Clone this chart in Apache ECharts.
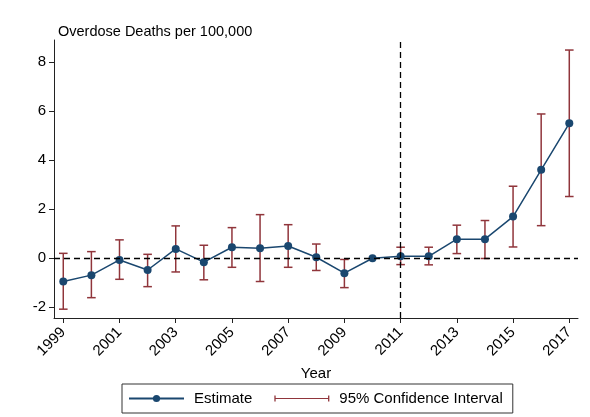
<!DOCTYPE html>
<html>
<head>
<meta charset="utf-8">
<script src="https://cdn.jsdelivr.net/npm/echarts@6/dist/echarts.min.js"></script>
<style>
  html, body { margin: 0; padding: 0; background: #fff; }
  #chart { width: 590px; height: 417px; }
</style>
</head>
<body>
<div id="chart"></div>
<script>
// Event-study estimates of overdose deaths per 100,000 (2010 = reference year)
const years = [1999, 2000, 2001, 2002, 2003, 2004, 2005, 2006, 2007, 2008,
               2009, 2010, 2011, 2012, 2013, 2014, 2015, 2016, 2017];
const estimate = [-0.95, -0.69, -0.07, -0.48, 0.38, -0.16, 0.45, 0.41, 0.50, 0.04,
                  -0.61, 0.00, 0.08, 0.08, 0.78, 0.78, 1.70, 3.61, 5.51];
// 95% confidence bounds; the reference year has no interval
const ciLow  = [-2.08, -1.61, -0.86, -1.16, -0.56, -0.88, -0.37, -0.95, -0.37, -0.50,
                -1.20, null, -0.26, -0.27, 0.19, -0.01, 0.46, 1.33, 2.52];
const ciHigh = [0.20, 0.27, 0.75, 0.16, 1.32, 0.53, 1.25, 1.78, 1.37, 0.58,
                -0.05, null, 0.45, 0.45, 1.35, 1.54, 2.94, 5.89, 8.50];
const xTicks = [1999, 2001, 2003, 2005, 2007, 2009, 2011, 2013, 2015, 2017];
const yTicks = [-2, 0, 2, 4, 6, 8];
const treatmentYear = 2011;

const NAVY = '#1a476f';
const MAROON = '#90353b';
const FONT = '"Liberation Sans", Arial, Helvetica, sans-serif';

const estData = years.map((y, i) => [y, estimate[i]]);
const ciData = years
  .map((y, i) => [y, ciLow[i], ciHigh[i]])
  .filter(d => d[1] !== null && d[2] !== null);

const chart = echarts.init(document.getElementById('chart'), null, { renderer: 'canvas' });

chart.setOption({
  animation: false,
  backgroundColor: '#fff',
  textStyle: { fontFamily: FONT, color: '#000' },
  title: {
    text: 'Overdose Deaths per 100,000',
    left: 53,
    top: 19,
    textStyle: { fontFamily: FONT, fontSize: 14.5, fontWeight: 'normal', color: '#000' }
  },
  grid: { left: 54, right: 12, top: 40, bottom: 99, containLabel: false },
  xAxis: {
    type: 'value',
    min: 1998.67,
    max: 2017.31,
    name: 'Year',
    nameLocation: 'middle',
    nameGap: 38,
    nameTextStyle: { fontFamily: FONT, fontSize: 15, color: '#000' },
    splitLine: { show: false },
    axisLine: { show: true, onZero: false, lineStyle: { color: '#222', width: 1 } },
    axisTick: { show: true, length: 5, customValues: xTicks, lineStyle: { color: '#222' } },
    axisLabel: {
      customValues: xTicks,
      rotate: 45,
      margin: 12,
      fontFamily: FONT,
      fontSize: 15,
      color: '#000',
      formatter: v => String(Math.round(v))
    }
  },
  yAxis: {
    type: 'value',
    min: -2.44,
    max: 8.91,
    splitLine: { show: false },
    axisLine: { show: true, onZero: false, lineStyle: { color: '#222', width: 1 } },
    axisTick: { show: true, length: 5, customValues: yTicks, lineStyle: { color: '#222' } },
    axisLabel: {
      customValues: yTicks,
      margin: 8,
      fontFamily: FONT,
      fontSize: 15,
      color: '#000'
    }
  },
  legend: {
    data: [
      { name: 'Estimate' },
      { name: '95% Confidence Interval',
        icon: 'path://M0,0h1.3v6h-1.3z M0,2.4h55v1.2h-55z M53.7,0h1.3v6h-1.3z' }
    ],
    left: 122,
    top: 384,
    padding: [7, 10, 7, 6],
    itemWidth: 55,
    itemHeight: 9,
    itemGap: 22,
    borderColor: '#333',
    borderWidth: 1,
    selectedMode: false,
    textStyle: { fontFamily: FONT, fontSize: 15, color: '#000', padding: [0, 0, 0, 5] }
  },
  series: [
    {
      // dashed reference lines: zero effect and treatment year
      name: 'ref',
      type: 'line',
      data: [],
      z: 1,
      silent: true,
      markLine: {
        silent: true,
        symbol: 'none',
        label: { show: false },
        lineStyle: { color: '#000', type: [6, 4], width: 1.3 },
        data: [{ yAxis: 0 }, { xAxis: treatmentYear }]
      }
    },
    {
      name: '95% Confidence Interval',
      type: 'custom',
      z: 2,
      itemStyle: { color: MAROON },
      encode: { x: 0, y: [1, 2] },
      data: ciData,
      renderItem: function (params, api) {
        const x = api.value(0);
        const lo = api.coord([x, api.value(1)]);
        const hi = api.coord([x, api.value(2)]);
        const cap = 4.3;
        const st = { stroke: MAROON, lineWidth: 1.5, fill: null };
        return {
          type: 'group',
          children: [
            { type: 'line', shape: { x1: hi[0], y1: hi[1], x2: lo[0], y2: lo[1] }, style: st },
            { type: 'line', shape: { x1: hi[0] - cap, y1: hi[1], x2: hi[0] + cap, y2: hi[1] }, style: st },
            { type: 'line', shape: { x1: lo[0] - cap, y1: lo[1], x2: lo[0] + cap, y2: lo[1] }, style: st }
          ]
        };
      }
    },
    {
      name: 'Estimate',
      type: 'line',
      z: 3,
      data: estData,
      symbol: 'circle',
      symbolSize: 8,
      itemStyle: { color: NAVY },
      lineStyle: { color: NAVY, width: 1.5 }
    }
  ]
});
</script>
</body>
</html>
